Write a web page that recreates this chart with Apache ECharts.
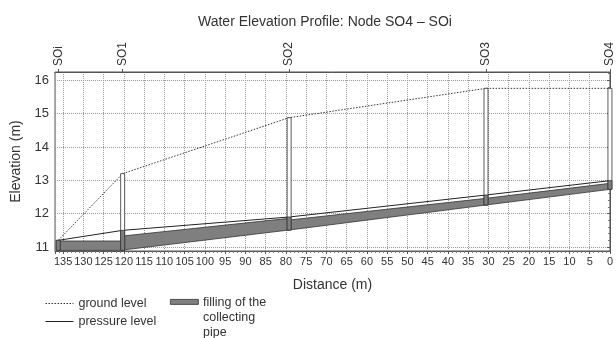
<!DOCTYPE html>
<html>
<head>
<meta charset="utf-8">
<script src="https://cdn.jsdelivr.net/npm/echarts@6/dist/echarts.min.js"></script>
<style>
  html, body { margin: 0; padding: 0; background: #fff; }
  #profile { width: 616px; height: 338px; }
</style>
</head>
<body>
<div id="profile"></div>
<script>
// nodes along the sewer, distance measured from SO4
var nodeNames = ['SOi', 'SO1', 'SO2', 'SO3', 'SO4'];
var nodeDist = [136.2, 120.3, 79.2, 30.6, 0];
var groundLevel = [11.2, 13.2, 14.88, 15.76, 15.76];
var pressureLevel = [11.2, 11.5, 11.9, 12.56, 12.99];
var nodeBottom = [10.9, 10.9, 11.51, 12.26, 12.73];

// pipe segments (from -> to)
var pipeFrom = [136.2, 120.3, 79.2, 30.6];
var pipeTo = [120.3, 79.2, 30.6, 0];
var invertFrom = [10.9, 10.91, 11.51, 12.26];
var invertTo = [10.9, 11.51, 12.26, 12.73];
var fillFrom = [11.18, 11.33, 11.81, 12.46];
var fillTo = [11.18, 11.86, 12.46, 12.91];

var fillName = 'filling of the\ncollecting\npipe';

function showProfile() {
    var myChart = echarts.init(document.getElementById('profile'));

    var groundData = [], pressureData = [], manholeData = [], pipeData = [];
    for (var i = 0; i < nodeDist.length; i++) {
        groundData.push([nodeDist[i], groundLevel[i]]);
        pressureData.push([nodeDist[i], pressureLevel[i]]);
        manholeData.push([nodeDist[i], nodeBottom[i], pressureLevel[i], groundLevel[i]]);
    }
    for (var j = 0; j < pipeFrom.length; j++) {
        pipeData.push([pipeFrom[j], pipeTo[j], invertFrom[j], invertTo[j], fillFrom[j], fillTo[j]]);
    }

    var gridLine = { show: true, lineStyle: { color: '#9a9a9a', type: [1, 1], width: 1 } };

    var option = {
        animation: false,
        title: {
            text: 'Water Elevation Profile: Node SO4 \u2013 SOi',
            left: 193,
            top: 10,
            textStyle: { fontSize: 14, fontWeight: 'normal', color: '#333', fontFamily: 'Liberation Sans' }
        },
        textStyle: { fontFamily: 'Liberation Sans' },
        legend: {
            orient: 'vertical',
            left: 40,
            top: 292,
            itemWidth: 28,
            itemHeight: 12,
            itemGap: 5,
            itemStyle: { opacity: 0 },
            lineStyle: { width: 1 },
            data: ['ground level', 'pressure level'],
            textStyle: { fontSize: 12.5, color: '#333' }
        },
        // legend entry for the pipe filling (three-line label, box on first line)
        graphic: [
            {
                type: 'rect',
                left: 170, top: 299,
                shape: { width: 28, height: 5 },
                style: { fill: '#7f7f7f', stroke: '#333', lineWidth: 0.8 }
            },
            {
                type: 'text',
                left: 203, top: 295,
                style: { text: fillName, fontSize: 12.5, lineHeight: 15, fill: '#333', fontFamily: 'Liberation Sans' }
            }
        ],
        grid: {
            left: 55, right: 3, top: 72, bottom: 87,
            show: true, borderColor: '#555', borderWidth: 1
        },
        xAxis: [
            {
                type: 'value',
                inverse: true,
                min: 0, max: 137, interval: 5,
                position: 'bottom',
                name: 'Distance (m)',
                nameLocation: 'middle',
                nameGap: 27,
                nameTextStyle: { fontSize: 14, color: '#333' },
                axisLine: { lineStyle: { color: '#555' } },
                axisTick: { length: 3, lineStyle: { color: '#555' } },
                minorTick: { show: true, splitNumber: 5, length: 2, lineStyle: { color: '#777' } },
                axisLabel: {
                    fontSize: 11, color: '#333', margin: 5,
                    formatter: function (v) { return v % 5 === 0 ? String(v) : ''; }
                },
                splitLine: gridLine
            },
            {
                type: 'value',
                inverse: true,
                min: 0, max: 137,
                position: 'top',
                axisLine: { lineStyle: { color: '#555' } },
                axisTick: { customValues: nodeDist, length: 3, lineStyle: { color: '#555' } },
                axisLabel: {
                    customValues: nodeDist,
                    rotate: -90, fontSize: 12, color: '#333', margin: 6,
                    formatter: function (v) {
                        var k = nodeDist.indexOf(v);
                        return k >= 0 ? nodeNames[k] : '';
                    }
                },
                splitLine: { show: false }
            }
        ],
        yAxis: {
            type: 'value',
            min: 10.88, max: 16.25, splitNumber: 5,
            name: 'Elevation (m)',
            nameLocation: 'middle',
            nameGap: 29,
            nameTextStyle: { fontSize: 14, color: '#333' },
            axisLine: { show: true, lineStyle: { color: '#555' } },
            axisTick: { show: true, length: 3, lineStyle: { color: '#555' } },
            minorTick: { show: true, splitNumber: 5, length: 2, lineStyle: { color: '#777' } },
            axisLabel: {
                fontSize: 13, color: '#333', margin: 6,
                formatter: function (v) { return Math.abs(v - Math.round(v)) < 1e-6 ? String(Math.round(v)) : ''; }
            },
            splitLine: gridLine
        },
        series: [
            {
                name: fillName,
                type: 'custom',
                xAxisIndex: 0,
                itemStyle: { color: '#7f7f7f', borderColor: '#333' },
                encode: { x: [0, 1], y: [2, 3, 4, 5] },
                z: 2,
                renderItem: function (params, api) {
                    var a = api.coord([api.value(0), api.value(2)]);
                    var b = api.coord([api.value(1), api.value(3)]);
                    var c = api.coord([api.value(1), api.value(5)]);
                    var d = api.coord([api.value(0), api.value(4)]);
                    return {
                        type: 'polygon',
                        shape: { points: [a, b, c, d] },
                        style: { fill: '#7f7f7f', stroke: '#333', lineWidth: 0.8 }
                    };
                },
                data: pipeData
            },
            {
                name: 'ground level',
                type: 'line',
                xAxisIndex: 0,
                symbol: 'none',
                color: '#333',
                lineStyle: { color: '#333', width: 1, type: [1.5, 1.5] },
                z: 3,
                data: groundData
            },
            {
                name: 'pressure level',
                type: 'line',
                xAxisIndex: 0,
                symbol: 'none',
                color: '#222',
                lineStyle: { color: '#222', width: 1 },
                z: 3,
                data: pressureData
            },
            {
                name: 'manholes',
                type: 'custom',
                xAxisIndex: 0,
                clip: false,
                z: 4,
                encode: { x: 0, y: [1, 2, 3] },
                renderItem: function (params, api) {
                    var bot = api.coord([api.value(0), api.value(1)]);
                    var pr = api.coord([api.value(0), api.value(2)]);
                    var top = api.coord([api.value(0), api.value(3)]);
                    var w = 4;
                    return {
                        type: 'group',
                        children: [
                            {
                                type: 'rect',
                                shape: { x: bot[0] - w / 2, y: top[1], width: w, height: bot[1] - top[1] },
                                style: { fill: '#fff', stroke: '#333', lineWidth: 0.8 }
                            },
                            {
                                type: 'rect',
                                shape: { x: bot[0] - w / 2, y: pr[1], width: w, height: bot[1] - pr[1] },
                                style: { fill: '#7f7f7f', stroke: '#333', lineWidth: 0.8 }
                            }
                        ]
                    };
                },
                data: manholeData
            }
        ]
    };

    myChart.setOption(option);
}

showProfile();
</script>
</body>
</html>
